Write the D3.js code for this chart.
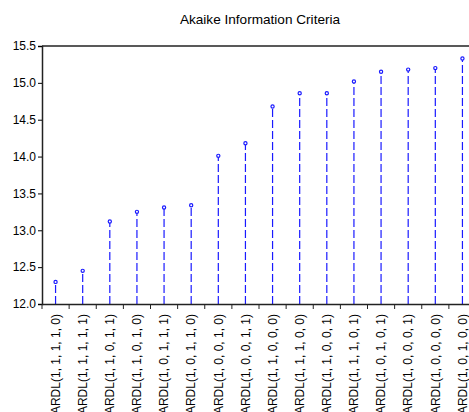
<!DOCTYPE html>
<html>
<head>
  <meta charset="utf-8">
  <script src="https://cdn.jsdelivr.net/npm/d3@7"></script>
  <style type="text/css">
    body {
      margin: 0;
      background: #fff;
      font-family: "Liberation Sans", Arial, Helvetica, sans-serif;
    }
    .axis text {
      font-size: 12px;
      fill: #000;
    }
  </style>
</head>
<body>
  <script type="text/javascript">

  // models tested, in plotted order
  const models = [
    'ARDL(1, 1, 1, 1, 0)', 'ARDL(1, 1, 1, 1, 1)', 'ARDL(1, 1, 0, 1, 1)', 'ARDL(1, 1, 0, 1, 0)',
    'ARDL(1, 0, 1, 1, 1)', 'ARDL(1, 0, 1, 1, 0)', 'ARDL(1, 0, 0, 1, 0)', 'ARDL(1, 0, 0, 1, 1)',
    'ARDL(1, 1, 0, 0, 0)', 'ARDL(1, 1, 1, 0, 0)', 'ARDL(1, 1, 0, 0, 1)', 'ARDL(1, 1, 1, 0, 1)',
    'ARDL(1, 0, 1, 0, 1)', 'ARDL(1, 0, 0, 0, 1)', 'ARDL(1, 0, 0, 0, 0)', 'ARDL(1, 0, 1, 0, 0)'
  ];
  // AIC value of each model
  const aic = [12.30, 12.45, 13.12, 13.25, 13.31, 13.34, 14.01, 14.18,
               14.68, 14.86, 14.86, 15.02, 15.15, 15.18, 15.20, 15.33];
  const yTicks = [12.0, 12.5, 13.0, 13.5, 14.0, 14.5, 15.0, 15.5];

  const margin = {top: 46, left: 42};
  const width = 434;   // runs past the right edge, like the picture
  const height = 258;

  const svg = d3.select('body').append('svg')
    .attr('width', 469)
    .attr('height', 412);

  const g = svg.append('g')
    .attr('transform', `translate(${margin.left},${margin.top})`);

  const x = d3.scaleBand().domain(models).range([0, width]);
  const y = d3.scaleLinear().domain([12, 15.5]).range([height, 0]);

  // title
  svg.append('text')
    .attr('x', 260)
    .attr('y', 24)
    .attr('text-anchor', 'middle')
    .style('font-size', '13.6px')
    .text('Akaike Information Criteria');

  // stems
  g.selectAll('line.stem').data(aic)
    .enter().append('line')
    .attr('class', 'stem')
    .attr('x1', (d, i) => x(models[i]) + x.bandwidth() / 2)
    .attr('x2', (d, i) => x(models[i]) + x.bandwidth() / 2)
    .attr('y1', y(12))
    .attr('y2', d => y(d))
    .attr('stroke', '#1a1aff')
    .attr('stroke-width', 1.2)
    .attr('stroke-dasharray', '8,3');

  // markers
  g.selectAll('circle').data(aic)
    .enter().append('circle')
    .attr('cx', (d, i) => x(models[i]) + x.bandwidth() / 2)
    .attr('cy', d => y(d))
    .attr('r', 1.6)
    .attr('fill', '#fff')
    .attr('stroke', '#1a1aff')
    .attr('stroke-width', 1.2);

  // frame top
  g.append('line')
    .attr('x1', 0).attr('x2', width)
    .attr('y1', 0).attr('y2', 0)
    .attr('stroke', '#222')
    .attr('stroke-width', 1.5);

  // y axis
  const axisY = d3.axisLeft(y).tickValues(yTicks).tickFormat(d3.format('.1f')).tickSize(4).tickPadding(2);
  g.append('g').attr('class', 'axis').call(axisY)
    .call(a => a.select('.domain').attr('stroke', '#222').attr('stroke-width', 1.5));

  // x axis with ticks at band edges
  const axisX = d3.axisBottom(x).tickSize(0).tickPadding(0);
  const gx = g.append('g').attr('class', 'axis')
    .attr('transform', `translate(0,${height})`)
    .call(axisX);
  gx.select('.domain').attr('stroke', '#222').attr('stroke-width', 1.5);
  gx.selectAll('text')
    .attr('transform', 'rotate(-90)')
    .attr('x', -10)
    .attr('y', 0)
    .attr('dy', '0.35em')
    .style('text-anchor', 'end');
  gx.selectAll('line.edge').data(models)
    .enter().append('line')
    .attr('class', 'edge')
    .attr('x1', d => x(d)).attr('x2', d => x(d))
    .attr('y1', 0).attr('y2', 5)
    .attr('stroke', '#222');

  </script>
</body>
</html>
